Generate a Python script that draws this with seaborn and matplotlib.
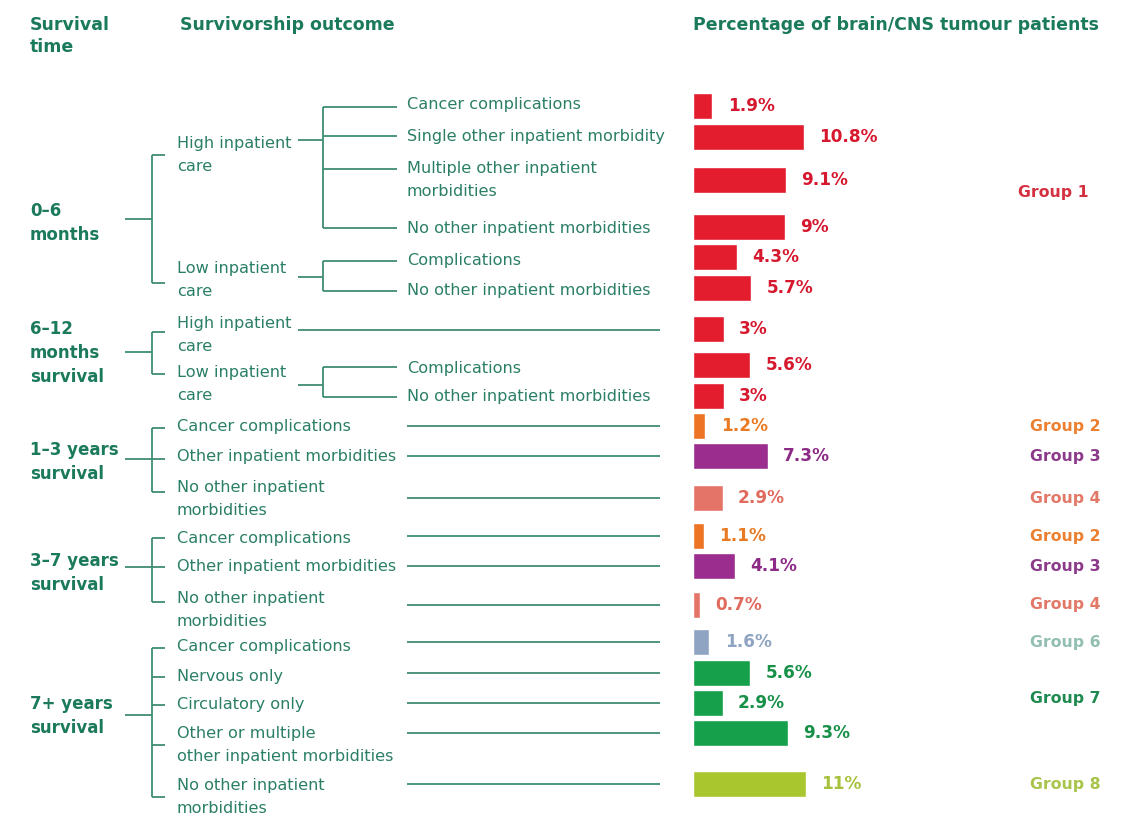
import matplotlib
matplotlib.use("Agg")
import matplotlib.pyplot as plt
import seaborn as sns
import pandas as pd

# ---------------- data ----------------
survival_times = ["0–6\nmonths", "6–12\nmonths\nsurvival", "1–3 years\nsurvival",
                  "3–7 years\nsurvival", "7+ years\nsurvival"]
care_levels = ["High inpatient\ncare", "Low inpatient\ncare",
               "High inpatient\ncare", "Low inpatient\ncare"]
outcomes_detail = ["Cancer complications", "Single other inpatient morbidity",
                   "Multiple other inpatient\nmorbidities", "No other inpatient morbidities",
                   "Complications", "No other inpatient morbidities",
                   "Complications", "No other inpatient morbidities"]
outcomes_leaf = ["Cancer complications", "Other inpatient morbidities",
                 "No other inpatient\nmorbidities",
                 "Cancer complications", "Other inpatient morbidities",
                 "No other inpatient\nmorbidities",
                 "Cancer complications", "Nervous only", "Circulatory only",
                 "Other or multiple\nother inpatient morbidities",
                 "No other inpatient\nmorbidities"]
values = [1.9, 10.8, 9.1, 9.0, 4.3, 5.7, 3.0, 5.6, 3.0,
          1.2, 7.3, 2.9, 1.1, 4.1, 0.7, 1.6, 5.6, 2.9, 9.3, 11.0]
value_labels = ["1.9%", "10.8%", "9.1%", "9%", "4.3%", "5.7%", "3%", "5.6%", "3%",
                "1.2%", "7.3%", "2.9%", "1.1%", "4.1%", "0.7%", "1.6%", "5.6%",
                "2.9%", "9.3%", "11%"]
groups = ["Group 1"] * 9 + ["Group 2", "Group 3", "Group 4", "Group 2", "Group 3",
                            "Group 4", "Group 6", "Group 7", "Group 7", "Group 7",
                            "Group 8"]
group_label_names = ["Group 1", "Group 2", "Group 3", "Group 4", "Group 2", "Group 3",
                     "Group 4", "Group 6", "Group 7", "Group 8"]
headers = ["Survival\ntime", "Survivorship outcome",
           "Percentage of brain/CNS tumour patients"]

# ---------------- styles ----------------
bar_colors = {"Group 1": "#e31d2d", "Group 2": "#ec7424", "Group 3": "#9a2d8e",
              "Group 4": "#e57468", "Group 6": "#8ea4c2", "Group 7": "#16a04b",
              "Group 8": "#a9c62e"}
value_colors = {"Group 1": "#d6182f", "Group 2": "#ea7a22", "Group 3": "#8c2a85",
                "Group 4": "#e06a5c", "Group 6": "#8ea4c2", "Group 7": "#179048",
                "Group 8": "#a6c23c"}
group_text_colors = {"Group 1": "#d5303f", "Group 2": "#ec8030", "Group 3": "#8c3a8a",
                     "Group 4": "#e27868", "Group 6": "#93bfb3", "Group 7": "#1e8a50",
                     "Group 8": "#a9c44a"}
TEAL = "#2b7f66"
TEAL_BOLD = "#1b7a5c"
LINE = "#3f8c74"

# ---------------- layout (pixels) ----------------
W, H = 1122, 816
row_y = [106, 137, 180, 227, 257, 288, 329, 365, 396, 426, 456, 498, 536, 566, 605,
         642, 673, 703, 733, 784]
BAR_LEFT = 693
PX_PER_PCT = 10.25
X_L1, X_C1A, X_BR1, X_T1, X_L2 = 30, 125, 152, 165, 177
X_C2A, X_BR2, X_T2, X_L3 = 298, 323, 397, 407
X_LEAF_A, X_LEAF_B = 407, 660
l1_y = [223, 353, 462, 573, 716]
l1_conn = [219, 352, 459, 567, 715]
# non-leaf level-2 nodes (0–6 and 6–12 months)
l2_y = [155, 280, 335, 384]
l2_tick = [155, 283, 332, 374]
l2_conn = [140, 277, 330, 385]
l2_rows = [[0, 1, 2, 3], [4, 5], [6], [7, 8]]
l2_parent = [0, 0, 1, 1]
# level-3 detail rows
l3_rows = [0, 1, 2, 3, 4, 5, 7, 8]
l3_y = [105, 137, 180, 228, 260, 290, 368, 396]
l3_tick = [107, 136, 169, 228, 261, 291, 367, 397]
# leaf level-2 rows
leaf_rows = list(range(9, 20))
leaf_parent = [2, 2, 2, 3, 3, 3, 4, 4, 4, 4, 4]
leaf_y = [427, 457, 499, 538, 567, 610, 647, 677, 705, 745, 797]
leaf_tick = [428, 459, 492, 538, 567, 602, 648, 677, 705, 745, 797]
group_label_y = [193, 426, 456, 498, 536, 566, 605, 642, 698, 784]
group_label_x = [1089, 1101, 1101, 1101, 1101, 1101, 1101, 1101, 1101, 1101]

sns.set_theme(style="white")
plt.rcParams["font.family"] = ["DejaVu Sans"]

fig = plt.figure(figsize=(W / 100, H / 100), dpi=100)
fig.patch.set_facecolor("white")
ax = fig.add_axes([0, 0, 1, 1])
ax.set_xlim(0, W)
ax.set_ylim(H, 0)
ax.axis("off")

FS = 11.6      # regular labels
FS_H = 12.5    # headers
FS_L1 = 12.0   # survival-time labels
FS_V = 12.2    # value labels
FS_G = 11.3    # group labels
LW = 1.3
LS = 1.65

def line(x0, y0, x1, y1):
    ax.plot([x0, x1], [y0, y1], color=LINE, lw=LW, solid_capstyle="butt")

# headers
ax.text(X_L1, 36, headers[0], fontsize=FS_H, fontweight="bold", color=TEAL_BOLD,
        va="center", ha="left", linespacing=1.35)
ax.text(180, 25, headers[1], fontsize=FS_H, fontweight="bold", color=TEAL_BOLD,
        va="center", ha="left")
ax.text(BAR_LEFT, 25, headers[2], fontsize=FS_H, fontweight="bold", color=TEAL_BOLD,
        va="center", ha="left")

# level 1
for lab, y, cy in zip(survival_times, l1_y, l1_conn):
    ax.text(X_L1, y, lab, fontsize=FS_L1, fontweight="bold", color=TEAL_BOLD,
            va="center", ha="left", linespacing=1.45)
    line(X_C1A, cy, X_BR1, cy)

ticks_by_parent = {i: [] for i in range(5)}
for p, t in zip(l2_parent, l2_tick):
    ticks_by_parent[p].append(t)
for p, t in zip(leaf_parent, leaf_tick):
    ticks_by_parent[p].append(t)
for p, ts in ticks_by_parent.items():
    line(X_BR1, min(ts), X_BR1, max(ts))
    for t in ts:
        line(X_BR1, t, X_T1, t)

# level 2 non-leaf
for lab, y, cy, rows in zip(care_levels, l2_y, l2_conn, l2_rows):
    ax.text(X_L2, y, lab, fontsize=FS, color=TEAL, va="center", ha="left",
            linespacing=LS)
    if len(rows) == 1:
        line(X_C2A, cy, X_LEAF_B, cy)
    else:
        line(X_C2A, cy, X_BR2, cy)
        ts = [l3_tick[l3_rows.index(r)] for r in rows]
        line(X_BR2, min(ts), X_BR2, max(ts))
        for t in ts:
            line(X_BR2, t, X_T2, t)

# level 3 labels
for lab, y in zip(outcomes_detail, l3_y):
    ax.text(X_L3, y, lab, fontsize=FS, color=TEAL, va="center", ha="left",
            linespacing=LS)

# leaf level-2 labels + lines to bars
for lab, y, r in zip(outcomes_leaf, leaf_y, leaf_rows):
    ax.text(X_L2, y, lab, fontsize=FS, color=TEAL, va="center", ha="left",
            linespacing=LS)
    line(X_LEAF_A, row_y[r], X_LEAF_B, row_y[r])

# group labels
for g, x, y in zip(group_label_names, group_label_x, group_label_y):
    ax.text(x, y, g, fontsize=FS_G, fontweight="bold", color=group_text_colors[g],
            va="center", ha="right")

# ---------------- bars ----------------
axb = fig.add_axes([BAR_LEFT / W, 0, 1 - BAR_LEFT / W, 1])
axb.patch.set_alpha(0)
df = pd.DataFrame({"value": values, "pos": row_y, "group": groups})
sns.barplot(data=df, x="value", y="pos", hue="group", palette=bar_colors,
            orient="h", native_scale=True, dodge=False, width=0.89,
            saturation=1, legend=False, ax=axb, errorbar=None)
axb.set_xlim(0, (W - BAR_LEFT) / PX_PER_PCT)
axb.set_ylim(H, 0)
axb.axis("off")
for v, y, lbl, g in zip(values, row_y, value_labels, groups):
    axb.annotate(lbl, (v, y), xytext=(11, 0), textcoords="offset points",
                 fontsize=FS_V, fontweight="bold", color=value_colors[g],
                 va="center", ha="left")

fig.savefig("out.png", dpi=100, facecolor="white")
